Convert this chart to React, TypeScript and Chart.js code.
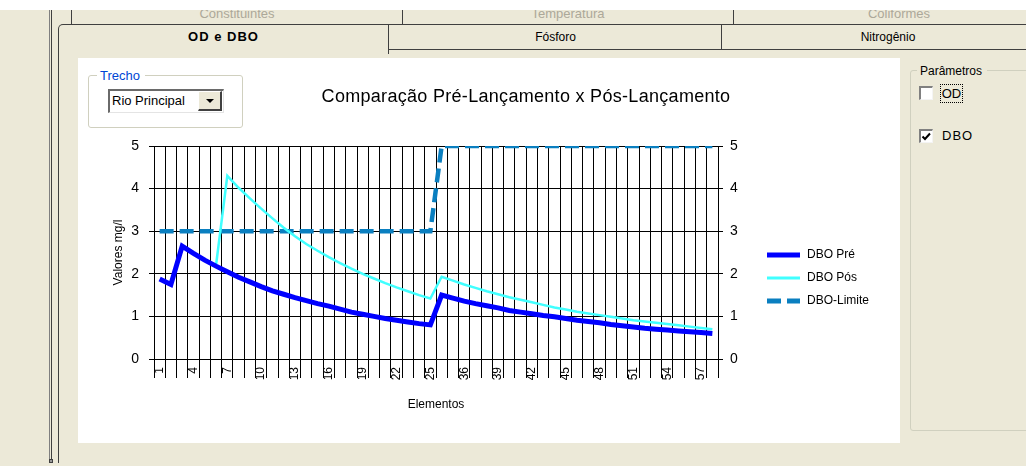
import React, { useEffect, useRef } from 'react';
import { Chart, registerables } from 'chart.js';

Chart.register(...registerables);

// ---------- data ----------
const elements: string[] = [
  '1', '2', '3', '4', '5', '6', '7', '8', '9', '10', '11', '12', '13', '14', '15', '16', '17', '18', '19', '20', '21', '22', '23', '24', '25',
  '34', '35', '36', '37', '38', '39', '40', '41', '42', '43', '44', '45', '46', '47', '48', '49', '50', '51', '52', '53', '54', '55', '56', '57', '58',
];

const dboPre: number[] = [
  1.88, 1.75, 2.65, 2.48, 2.32, 2.18, 2.05, 1.92, 1.81, 1.70, 1.60, 1.52, 1.44, 1.37, 1.30, 1.24, 1.17, 1.10, 1.05, 1.00, 0.95, 0.91, 0.87, 0.83, 0.80,
  1.50, 1.43, 1.36, 1.30, 1.25, 1.20, 1.14, 1.10, 1.06, 1.02, 0.99, 0.95, 0.91, 0.88, 0.85, 0.81, 0.78, 0.75, 0.72, 0.70, 0.68, 0.66, 0.64, 0.62, 0.60,
];

const dboPos: (number | null)[] = [
  null, null, null, null, null, 2.20, 4.30, 4.02, 3.77, 3.53, 3.30, 3.08, 2.88, 2.70, 2.54, 2.39, 2.25, 2.12, 2.00, 1.89, 1.78, 1.68, 1.59, 1.50, 1.42,
  1.93, 1.84, 1.75, 1.67, 1.59, 1.52, 1.45, 1.39, 1.33, 1.27, 1.21, 1.16, 1.11, 1.07, 1.03, 0.99, 0.95, 0.91, 0.88, 0.85, 0.82, 0.79, 0.76, 0.73, 0.70,
];

const dboLimite: number[] = [
  3, 3, 3, 3, 3, 3, 3, 3, 3, 3, 3, 3, 3, 3, 3, 3, 3, 3, 3, 3, 3, 3, 3, 3, 3,
  5, 5, 5, 5, 5, 5, 5, 5, 5, 5, 5, 5, 5, 5, 5, 5, 5, 5, 5, 5, 5, 5, 5, 5, 5,
];

const seriesNames: string[] = ['DBO Pré', 'DBO Pós', 'DBO-Limite'];
const chartTitle = 'Comparação Pré-Lançamento x Pós-Lançamento';
const xTitle = 'Elementos';
const yTitle = 'Valores mg/l';
const tabsBack: string[] = ['Constituintes', 'Temperatura', 'Coliformes'];
const tabsFront: string[] = ['OD e DBO', 'Fósforo', 'Nitrogênio'];

const FONT = "'Liberation Sans', Arial, sans-serif";
const BEIGE = '#ECE9D8';
const LINE = '#3f3f3f';

const titlePlugin = {
  id: 'customTitle',
  afterDraw(chart: any) {
    const ctx = chart.ctx;
    ctx.save();
    ctx.fillStyle = '#000';
    ctx.font = `18px ${FONT}`;
    try { (ctx as any).letterSpacing = '0.3px'; } catch (e) { /* ignore */ }
    ctx.textAlign = 'center';
    ctx.textBaseline = 'middle';
    ctx.fillText(chartTitle, 448, 39);
    ctx.restore();
  },
};

const legendPlugin = {
  id: 'customLegend',
  afterDraw(chart: any) {
    const ctx = chart.ctx;
    const widths = [5, 3, 5];
    ctx.save();
    chart.data.datasets.forEach((ds: any, i: number) => {
      const y = 197 + i * 23;
      ctx.beginPath();
      ctx.strokeStyle = ds.borderColor;
      ctx.lineWidth = widths[i];
      ctx.setLineDash(ds.borderDash || []);
      ctx.moveTo(689, y);
      ctx.lineTo(722, y);
      ctx.stroke();
      ctx.setLineDash([]);
      ctx.fillStyle = '#000';
      ctx.font = `12px ${FONT}`;
      ctx.textAlign = 'left';
      ctx.textBaseline = 'middle';
      ctx.fillText(ds.label, 729, y);
    });
    ctx.restore();
  },
};

function ChartBox() {
  const ref = useRef<HTMLCanvasElement | null>(null);
  useEffect(() => {
    if (!ref.current) return;
    const chart = new Chart(ref.current, {
      type: 'line',
      data: {
        labels: elements,
        datasets: [
          {
            label: seriesNames[0],
            data: dboPre,
            borderColor: '#0000FF',
            backgroundColor: '#0000FF',
            borderWidth: 5,
            pointRadius: 0,
            tension: 0,
            yAxisID: 'y',
          },
          {
            label: seriesNames[1],
            data: dboPos,
            borderColor: '#40FFFF',
            backgroundColor: '#40FFFF',
            borderWidth: 2.5,
            pointRadius: 0,
            tension: 0,
            spanGaps: false,
            yAxisID: 'y',
          },
          {
            label: seriesNames[2],
            data: dboLimite,
            borderColor: '#0A7FC0',
            backgroundColor: '#0A7FC0',
            borderWidth: 4.5,
            borderDash: [14, 6],
            pointRadius: 0,
            tension: 0,
            yAxisID: 'y',
          },
        ],
      },
      options: {
        animation: false,
        responsive: false,
        maintainAspectRatio: false,
        devicePixelRatio: 1,
        layout: { padding: { left: 20, right: 152, top: 88, bottom: 24 } },
        plugins: {
          legend: { display: false },
          title: { display: false },
          tooltip: { enabled: false },
        },
        scales: {
          x: {
            type: 'category',
            offset: true,
            grid: { offset: true, color: '#000', lineWidth: 1, drawTicks: true, tickLength: 19, tickColor: '#000' },
            border: { display: true, color: '#000' },
            ticks: {
              autoSkip: false,
              minRotation: 90,
              maxRotation: 90,
              padding: -11,
              color: '#000',
              font: { family: FONT, size: 12 },
              callback: (_v: any, i: number) => (i % 3 === 0 ? elements[i] : ''),
            },
            title: { display: true, text: xTitle, color: '#000', font: { family: FONT, size: 12 }, padding: { top: 0, bottom: 7 } },
            afterFit: (s: any) => { s.height = 60; },
          },
          y: {
            type: 'linear',
            position: 'left',
            min: 0,
            max: 5,
            grid: { color: '#000', lineWidth: 1, drawTicks: true, tickLength: 5, tickColor: '#000' },
            border: { display: true, color: '#000' },
            ticks: { stepSize: 1, padding: 10, color: '#000', font: { family: FONT, size: 14 } },
            title: { display: true, text: yTitle, color: '#000', font: { family: FONT, size: 12 }, padding: { top: 13, bottom: 0 } },
            afterFit: (s: any) => { s.width = 56; },
          },
          y2: {
            type: 'linear',
            position: 'right',
            min: 0,
            max: 5,
            grid: { drawOnChartArea: false, color: '#000', drawTicks: true, tickLength: 5, tickColor: '#000' },
            border: { display: true, color: '#000' },
            ticks: { stepSize: 1, padding: 7, color: '#000', font: { family: FONT, size: 14 } },
            afterFit: (s: any) => { s.width = 30; },
          },
        },
      } as any,
      plugins: [titlePlugin, legendPlugin],
    });
    return () => chart.destroy();
  }, []);
  return <canvas ref={ref} width={822} height={385} style={{ display: 'block', width: 822, height: 385 }} />;
}

const abs = (l: number, t: number, w: number, h: number, extra: React.CSSProperties = {}): React.CSSProperties => ({
  position: 'absolute', left: l, top: t, width: w, height: h, boxSizing: 'border-box', ...extra,
});

export default function App() {
  return (
    <div style={{ position: 'fixed', left: 0, top: 0, width: 1026, height: 466, overflow: 'hidden', background: BEIGE, fontFamily: FONT }}>
      {/* top white strip */}
      <div style={abs(0, 0, 1026, 10, { background: '#fff' })} />
      {/* left frame lines */}
      <div style={abs(49, 10, 1, 453, { background: '#7f7f7f' })} />
      <div style={abs(51, 10, 1, 453, { background: '#404040' })} />
      <div style={abs(49, 459, 4, 4, { background: '#9a9a9a', border: '1px solid #404040' })} />

      {/* back row of tabs */}
      <div style={abs(58, 10, 968, 15, { overflow: 'hidden' })}>
        {tabsBack.map((t, i) => (
          <div key={t} style={abs(13 + i * 331, -5, 331, 19, {
            borderLeft: `1px solid ${LINE}`, color: '#ACA899', fontSize: 13, textAlign: 'center', lineHeight: '17px',
          })}>{t}</div>
        ))}
      </div>
      <div style={abs(70, 24, 956, 1, { background: LINE })} />

      {/* front row of tabs */}
      <div style={abs(58, 24, 331, 30, {
        borderLeft: `1px solid ${LINE}`, borderTop: `1px solid ${LINE}`, borderRight: `1px solid ${LINE}`,
        borderTopLeftRadius: 5, background: BEIGE,
      })} />
      <div style={abs(59, 27, 329, 20, { fontWeight: 'bold', fontSize: 13, letterSpacing: 1, textAlign: 'center', lineHeight: '20px', color: '#000' })}>{tabsFront[0]}</div>
      <div style={abs(389, 25, 333, 25, { borderRight: `1px solid ${LINE}`, borderBottom: `1px solid ${LINE}` })} />
      <div style={abs(389, 27, 333, 20, { fontSize: 12, textAlign: 'center', lineHeight: '20px', color: '#000' })}>{tabsFront[1]}</div>
      <div style={abs(722, 25, 304, 25, { borderBottom: `1px solid ${LINE}` })} />
      <div style={abs(722, 27, 332, 20, { fontSize: 12, textAlign: 'center', lineHeight: '20px', color: '#000' })}>{tabsFront[2]}</div>
      {/* panel left border */}
      <div style={abs(58, 30, 1, 433, { background: LINE })} />

      {/* white chart area */}
      <div style={abs(78, 58, 822, 385, { background: '#fff' })}>
        <ChartBox />
      </div>

      {/* Trecho group box */}
      <div style={abs(88, 75, 155, 53, { border: '1px solid #D0D0BF', borderRadius: 3 })} />
      <div style={abs(97, 68, 48, 16, { background: '#fff', color: '#0046D5', fontSize: 13, lineHeight: '16px', paddingLeft: 3 })}>Trecho</div>
      <div style={abs(108, 89, 116, 24, {
        background: '#fff', borderTop: '2px solid #6a6a6a', borderLeft: '2px solid #6a6a6a', borderRight: '1px solid #e4e4e4', borderBottom: '1px solid #e4e4e4',
        fontSize: 13, lineHeight: '20px', paddingLeft: 2, color: '#000',
      })}>Rio Principal</div>
      <div style={abs(198, 91, 24, 20, {
        background: BEIGE, borderTop: '1px solid #fff', borderLeft: '1px solid #fff', borderRight: '2px solid #404040', borderBottom: '2px solid #404040',
      })}>
        <svg width="22" height="18" style={{ position: 'absolute', left: 0, top: 0 }}>
          <path d="M7 7 L15 7 L11 11 Z" fill="#000" />
        </svg>
      </div>

      {/* Parâmetros group box */}
      <div style={abs(910, 70, 130, 361, { border: '1px solid #D0D0BF', borderRadius: 3 })} />
      <div style={abs(917, 63, 70, 16, { background: BEIGE, color: '#000', fontSize: 12, lineHeight: '16px', paddingLeft: 3 })}>Parâmetros</div>
      <div style={abs(919, 86, 14, 14, { background: '#fff', borderTop: '2px solid #808080', borderLeft: '2px solid #808080', borderRight: '1px solid #f4f4f4', borderBottom: '1px solid #f4f4f4' })} />
      <div style={abs(941, 85, 21, 17, { outline: '1px dotted #000', fontSize: 13, lineHeight: '17px', color: '#000', textAlign: 'center' })}>OD</div>
      <div style={abs(919, 129, 14, 14, { background: '#fff', borderTop: '2px solid #808080', borderLeft: '2px solid #808080', borderRight: '1px solid #f4f4f4', borderBottom: '1px solid #f4f4f4' })}>
        <svg width="12" height="12" style={{ position: 'absolute', left: 0, top: 0 }}>
          <path d="M1.5 5.5 L4 8 L9 2.5" stroke="#000" strokeWidth="2" fill="none" />
        </svg>
      </div>
      <div style={abs(942, 127, 40, 17, { fontSize: 13, lineHeight: '17px', color: '#000', letterSpacing: 1 })}>DBO</div>
    </div>
  );
}
